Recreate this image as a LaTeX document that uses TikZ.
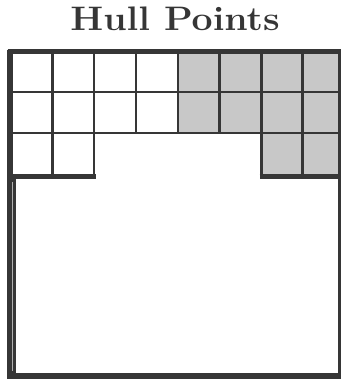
\documentclass[tikz,border=0pt]{standalone}
\usetikzlibrary{positioning}
\definecolor{ink}{HTML}{363636}
\definecolor{hullfill}{HTML}{C8C8C8}
\definecolor{seam}{HTML}{B0B0B0}
\begin{document}
\begin{tikzpicture}[
  x=1pt, y=-1pt,
  heading/.style={text=ink, font=\fontsize{34}{34}\selectfont\bfseries},
  gridline/.style={draw=ink, line width=2.6pt},
  rim/.style={draw=ink, line width=4.5pt},
  hullcell/.style={fill=hullfill}
]
\useasboundingbox (0,0) rectangle (341,381);

\node[heading, anchor=base, xscale=1.1] (title) at (175,30) {Hull Points};

% shaded hull cells
\fill[hullcell] (178,51.7) -| (339.5,176.5) -| (261.5,133) -| cycle;

% grid of the two full rows
\foreach \x in {52.3,94,136,178,219.5,261.5,302.5}
  \draw[gridline] (\x,51.7) -- (\x,133);
\foreach \y in {92,133}
  \draw[gridline] (10,\y) -- (339.5,\y);

% third row, left and right steps
\draw[gridline] (52.3,133) -- (52.3,176.5);
\draw[gridline] (94,133) -- (94,178);
\draw[gridline] (302.5,133) -- (302.5,176.5);
\draw[gridline] (261.5,133) -- (261.5,178);
\draw[rim] (10,176.5) -- (96,176.5);
\draw[rim] (259.5,176.5) -- (340,176.5);

% outer frame
\draw[rim] (7.5,51.7) -- (341,51.7);
\draw[draw=ink, line width=3pt] (339.5,51.7) -- (339.5,376);
\draw[draw=ink, line width=6pt] (8,376) -- (341,376);
\draw[draw=ink, line width=5.5pt] (9.8,49.5) -- (9.8,379);
\draw[draw=ink, line width=5pt] (13.5,176.5) -- (13.5,373);
\draw[draw=seam, line width=0.7pt] (12.7,182) -- (12.7,371);
\end{tikzpicture}
\end{document}
